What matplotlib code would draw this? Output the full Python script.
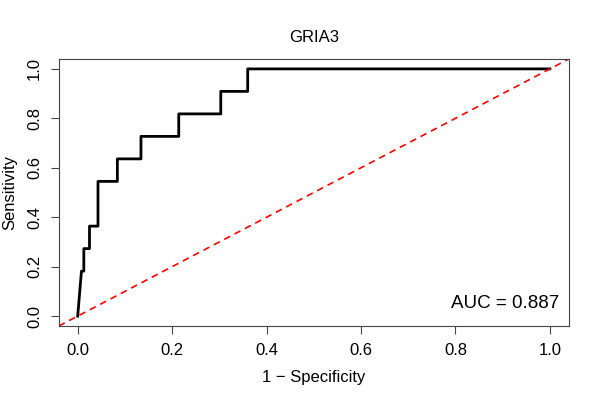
import numpy as np
import matplotlib
matplotlib.use("Agg")
import matplotlib.pyplot as plt

plt.rcParams['font.family'] = ['Liberation Sans', 'DejaVu Sans']

fpr = [0.0, 0.004, 0.008, 0.013, 0.013, 0.025, 0.025, 0.043, 0.043, 0.084, 0.084,
       0.134, 0.134, 0.214, 0.214, 0.303, 0.303, 0.360, 0.360, 1.0]
tpr = [0.0, 0.091, 0.182, 0.182, 0.273, 0.273, 0.364, 0.364, 0.545, 0.545, 0.636,
       0.636, 0.727, 0.727, 0.818, 0.818, 0.909, 0.909, 1.0, 1.0]
auc = 0.887
title = "GRIA3"

fig = plt.figure(figsize=(6, 4), dpi=100)
ax = fig.add_axes([0.098, 0.185, 0.85, 0.6675])

ax.plot(fpr, tpr, color="black", lw=2)
ax.plot([-0.04, 1.04], [-0.04, 1.04], color="red", ls=(0, (4, 3)), lw=1.2)

ax.set_xlim(-0.04, 1.04)
ax.set_ylim(-0.04, 1.04)
ticks = np.arange(0, 1.01, 0.2)
ax.set_xticks(ticks)
ax.set_yticks(ticks)
ax.set_xticklabels(["%.1f" % t for t in ticks], fontsize=12)
ax.set_yticklabels(["%.1f" % t for t in ticks], fontsize=12, rotation=90, va="center")
ax.tick_params(direction="out", length=6, width=0.8, color="#444444", pad=6)
for s in ax.spines.values():
    s.set_color("#444444")
    s.set_linewidth(0.8)

ax.text(1.02, 0.05, "AUC = %.3f" % auc, ha="right", va="center", fontsize=13.5)
ax.set_xlabel("1 \u2212 Specificity", fontsize=12, labelpad=9)
ax.set_ylabel("Sensitivity", fontsize=12, labelpad=7)
ax.set_title(title, fontsize=12, pad=12)

fig.savefig("out.png", dpi=100)
